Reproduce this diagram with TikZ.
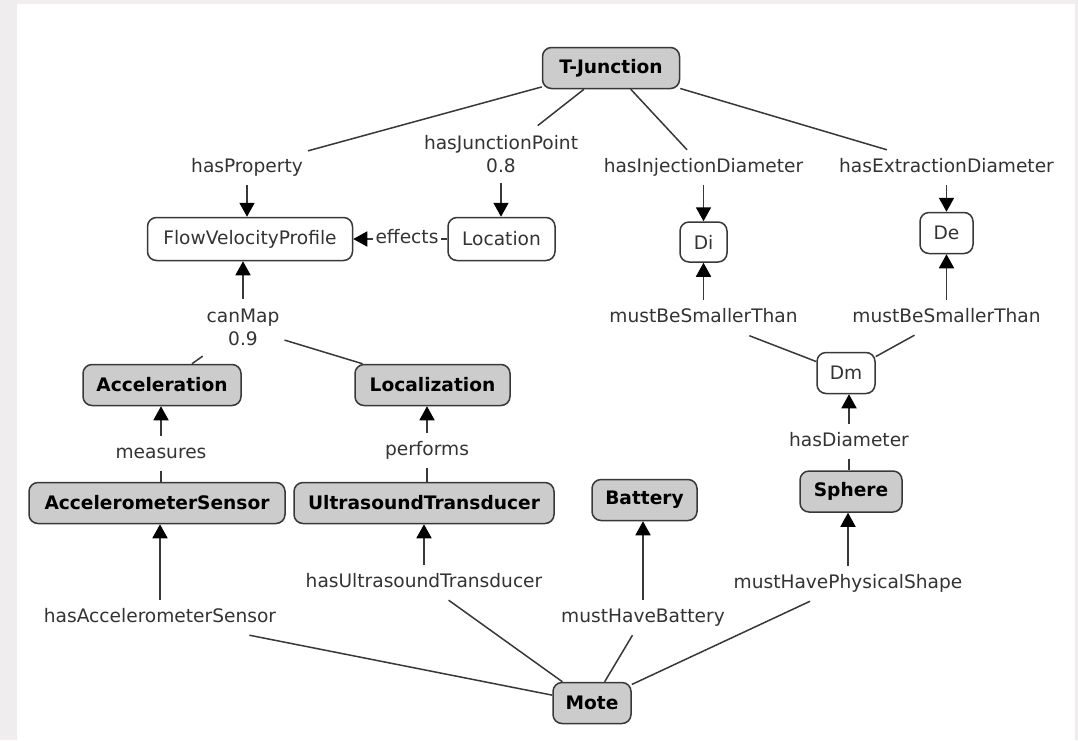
\documentclass[tikz,border=0pt]{standalone}
\usepackage{fontspec}
\setmainfont{DejaVu Sans}
\usetikzlibrary{arrows.meta}
\definecolor{framegray}{HTML}{EFEDED}
\definecolor{boxfill}{HTML}{CCCCCC}
\definecolor{edgecol}{HTML}{383838}
\definecolor{txtcol}{HTML}{333333}

\begin{document}
\begin{tikzpicture}[x=1pt,y=-1pt,
  concept/.style={draw=edgecol, line width=1.5pt, rounded corners=9pt,
    minimum height=41pt, inner xsep=4pt},
  keybox/.style={concept, fill=boxfill, text=black,
    font=\fontsize{18.6}{23}\selectfont\bfseries},
  plainbox/.style={concept, fill=white, text=txtcol,
    font=\fontsize{18.6}{23}\selectfont},
  rel/.style={text=txtcol, inner xsep=5pt, inner ysep=8pt,
    text height=14pt, text depth=5pt, font=\fontsize{18.6}{23}\selectfont},
  reltwo/.style={text=txtcol, align=center, inner xsep=5pt, inner ysep=10pt,
    font=\fontsize{18.6}{23}\selectfont},
  link/.style={draw=edgecol, line width=1.5pt},
  arr/.style={draw=edgecol, line width=1.8pt,
    -{Triangle[width=15pt,length=14pt,fill=black,color=black]}},
]
% frame and canvas
\fill[framegray] (0,0) rectangle (1078,740);
\fill[white] (17,4) rectangle (1075,740);

% concepts
\node[keybox, minimum width=137pt] (tj) at (611,68) {T-Junction};
\node[plainbox, minimum width=205pt, minimum height=43pt] (fvp) at (250,239) {FlowVelocityProfile};
\node[plainbox, minimum width=107pt, minimum height=43pt] (loc) at (501.5,239) {Location};
\node[plainbox, minimum width=47pt, minimum height=40pt] (di) at (703.5,242) {Di};
\node[plainbox, minimum width=53pt] (de) at (946.5,233) {De};
\node[keybox, minimum width=158pt] (acc) at (162,385) {Acceleration};
\node[keybox, minimum width=155pt] (loz) at (432.5,385) {Localization};
\node[plainbox, minimum width=58pt] (dm) at (846,373) {Dm};
\node[keybox, minimum width=256pt] (as) at (157,503) {AccelerometerSensor};
\node[keybox, minimum width=260pt] (ut) at (424,503) {UltrasoundTransducer};
\node[keybox, minimum width=105pt] (bat) at (644.5,500) {Battery};
\node[keybox, minimum width=102pt] (sph) at (851,491.5) {Sphere};
\node[keybox, minimum width=78pt] (mote) at (592,703) {Mote};

% relation labels
\node[rel] (hp) at (247,167.5) {hasProperty};
\node[reltwo] (hjp) at (501,154.5) {hasJunctionPoint\\0.8};
\node[rel] (hid) at (703.5,167.5) {hasInjectionDiameter};
\node[rel] (hed) at (946.5,167.5) {hasExtractionDiameter};
\node[rel, inner xsep=2pt] (eff) at (407,239) {effects};
\node[rel] (msl) at (703.5,318) {mustBeSmallerThan};
\node[rel] (msr) at (946.5,317.5) {mustBeSmallerThan};
\node[reltwo] (cm) at (243,327.5) {canMap\\0.9};
\node[rel] (meas) at (161,453.5) {measures};
\node[rel] (perf) at (427,450.5) {performs};
\node[rel] (hd) at (849,441.5) {hasDiameter};
\node[rel] (hut) at (424,582.5) {hasUltrasoundTransducer};
\node[rel] (mhps) at (848,583.5) {mustHavePhysicalShape};
\node[rel] (mhb) at (643,617.5) {mustHaveBattery};
\node[rel] (has) at (160,617.5) {hasAccelerometerSensor};

% T-Junction relations
\draw[link] (tj) -- (hp);
\draw[arr] (hp) -- (hp |- fvp.north);
\draw[link] (tj) -- (hjp);
\draw[arr] (hjp) -- (hjp |- loc.north);
\draw[link] (tj) -- (hid);
\draw[arr] (hid) -- (hid |- di.north);
\draw[link] (tj) -- (hed);
\draw[arr] (hed) -- (hed |- de.north);

% Location effects the flow profile
\draw[link] (loc) -- (eff);
\draw[arr] (eff) -- (eff -| fvp.east);

% diameters
\draw[link] (dm) -- (msl);
\draw[arr] (msl) -- (msl |- di.south);
\draw[link] (dm) -- (msr);
\draw[arr] (msr) -- (msr |- de.south);
\draw[link] (hd |- sph.north) -- (hd);
\draw[arr] (hd) -- (hd |- dm.south);

% mapping of the flow profile
\draw[link] (acc) -- (cm);
\draw[link] (loz) -- (cm);
\draw[arr] (cm) -- (cm |- fvp.south);
\draw[link] (meas |- as.north) -- (meas);
\draw[arr] (meas) -- (meas |- acc.south);
\draw[link] (perf |- ut.north) -- (perf);
\draw[arr] (perf) -- (perf |- loz.south);

% Mote relations
\draw[link] (mote) -- (has);
\draw[arr] (has) -- (has |- as.south);
\draw[link] (mote) -- (hut);
\draw[arr] (hut) -- (hut |- ut.south);
\draw[link] (mote) -- (mhb);
\draw[arr] (mhb) -- (mhb |- bat.south);
\draw[link] (mote) -- (mhps);
\draw[arr] (mhps) -- (mhps |- sph.south);
\end{tikzpicture}
\end{document}
